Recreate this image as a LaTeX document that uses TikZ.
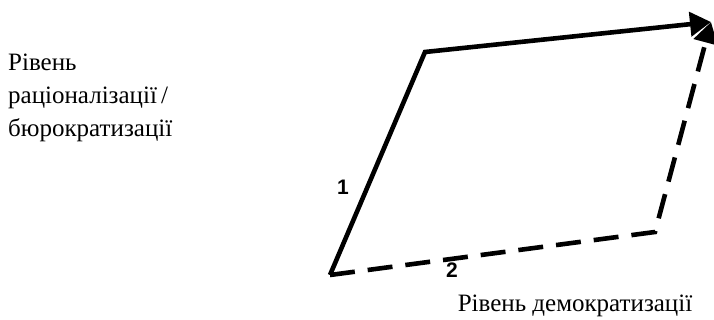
\documentclass[tikz,border=0pt]{standalone}
\usepackage{fontspec}
\setmainfont{Liberation Serif}
\newfontfamily\labfont{Liberation Serif}
\newfontfamily\numfont{Liberation Sans}
\usetikzlibrary{arrows.meta}
\tikzset{
  pathln/.style={line width=4.6pt, line cap=butt, line join=miter},
  dashln/.style={pathln, dash pattern=on 25pt off 13pt},
  bigtip/.style={-{Triangle[length=21pt,width=24pt]}},
  axislab/.style={font=\labfont\fontsize{25}{33}\selectfont, inner sep=0pt},
  numlab/.style={font=\numfont\bfseries\fontsize{21}{21}\selectfont, inner sep=0pt},
}

\begin{document}
\begin{tikzpicture}[x=1pt,y=1pt]
    \useasboundingbox (0,0) rectangle (714,320);
    % corners
    \coordinate (orig) at (330,45);
    \coordinate (rat) at (425,268);
    \coordinate (tip) at (711,298);
    \coordinate (dem) at (655,88);
    % path 1
    \draw[pathln, bigtip] (orig) -- (rat) -- (tip);
    % path 2
    \draw[dashln, bigtip] (orig) -- (dem) -- (tip);
    % labels
    \node[numlab] (one) at (343,133) {1};
    \node[numlab] (two) at (452,50) {2};
    \node[axislab, anchor=north west, align=left] (ylab) at (8,266)
      {Рівень\\раціоналізації\,/\\бюрократизації};
    \node[axislab, anchor=base] (xlab) at (575,8) {Рівень демократизації};
\end{tikzpicture}
\end{document}
